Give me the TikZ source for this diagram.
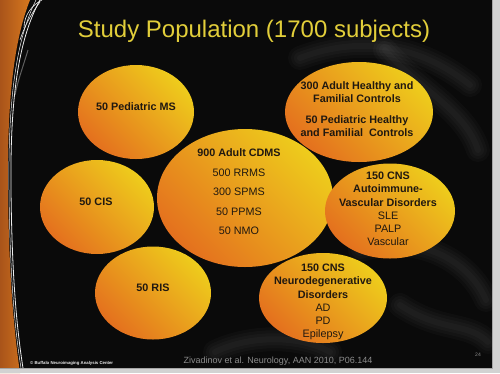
\documentclass[tikz,border=0pt]{standalone}
\usepackage{fontspec}
\setmainfont{Liberation Sans}
\usetikzlibrary{shapes.geometric}
\definecolor{bg}{HTML}{0A0A0A}
\definecolor{orA}{HTML}{E4701E}
\definecolor{yeA}{HTML}{EECC1C}
\definecolor{titleY}{HTML}{E2CE3A}
\definecolor{txt}{HTML}{201810}
\definecolor{bandA}{HTML}{A9541A}
\definecolor{bandB}{HTML}{D7781E}
\definecolor{framec}{HTML}{D2D2D2}
\definecolor{foot}{HTML}{8C8C8C}
\begin{document}
\begin{tikzpicture}[x=1pt,y=-1pt,
  blob/.style={ellipse, inner sep=0pt, draw=none, top color=yeA, bottom color=orA, shading angle=-45},
  lbl/.style={text=txt, font=\fontsize{10.8}{13.2}\selectfont, align=center, inner sep=0pt},
  smoke/.style={draw=white, opacity=0.022, line cap=round},
  swirl/.style={draw=white!85!gray, line width=0.8pt}]
\useasboundingbox (0,0) rectangle (500,373);
\fill[bg] (0,0) rectangle (500,373);
% faint smoke in background
\foreach \w in {6,12,18,24}{
\draw[smoke, line width=\w pt] (300,58) .. controls (360,35) and (420,45) .. (470,85);
\draw[smoke, line width=\w pt] (385,50) .. controls (420,90) and (465,110) .. (478,150);
\draw[smoke, line width=\w pt] (360,250) .. controls (420,232) and (470,262) .. (486,300);
\draw[smoke, line width=\w pt] (400,305) .. controls (440,332) and (468,322) .. (488,342);
\draw[smoke, line width=\w pt] (215,352) .. controls (250,335) and (300,335) .. (330,352);
}
% left orange band
\shade[left color=bandA, right color=bandB] (0,0) -- (30,0) .. controls (14,40) and (7,100) .. (8,190) .. controls (9,280) and (14,330) .. (20,373) -- (0,373) -- cycle;
\draw[swirl] (40,0) .. controls (18,40) and (10,100) .. (11,190) .. controls (12,280) and (17,330) .. (23,368);
\draw[swirl, line width=0.5pt] (36,0) .. controls (16,40) and (8,100) .. (9,190) .. controls (10,280) and (15,330) .. (21,368);
\draw[swirl, line width=0.6pt] (24,28) .. controls (24,15) and (32,5) .. (42,0);
\draw[swirl, line width=0.6pt] (20,40) .. controls (26,22) and (34,10) .. (40,2);
\draw[white, opacity=0.35, line width=1pt] (28,50) .. controls (22,70) and (18,80) .. (15,95);
% frame
\fill[framec] (492,0) rectangle (500,373);
\fill[framec] (0,368) rectangle (500,373);
\draw[gray!70, line width=0.6pt] (492.3,0) -- (492.3,368) -- (0,368);
% title
\node[text=titleY, font=\fontsize{24}{28}\selectfont, inner sep=0pt] (title) at (254,31) {Study Population (1700 subjects)};
% ellipses
\node[blob, minimum width=116pt, minimum height=94pt] (ped) at (136,112) {};
\node[blob, minimum width=114pt, minimum height=94pt] (cis) at (97,207) {};
\node[blob, minimum width=116pt, minimum height=93pt] (ris) at (153,293) {};
\node[blob, minimum width=176pt, minimum height=138pt] (cdms) at (245,198) {};
\node[blob, minimum width=148pt, minimum height=100pt] (ctrl) at (359,112) {};
\node[blob, minimum width=130pt, minimum height=95pt] (auto) at (390,211) {};
\node[blob, minimum width=128pt, minimum height=90pt] (neuro) at (323,298) {};
% labels
\node[lbl, font=\fontsize{10.8}{13.2}\selectfont\bfseries] (pedt) at (136,107) {50 Pediatric MS};
\node[lbl, font=\fontsize{10.8}{13.2}\selectfont\bfseries] (cist) at (96,202) {50 CIS};
\node[lbl, font=\fontsize{10.8}{13.2}\selectfont\bfseries] (rist) at (153,288) {50 RIS};
\node[lbl, font=\fontsize{10.8}{19.5}\selectfont] (cdmst) at (239,192) {\textbf{900 Adult CDMS}\\500 RRMS\\300 SPMS\\50 PPMS\\50 NMO};
\node[lbl, font=\fontsize{10.8}{13.2}\selectfont\bfseries] (ctrla) at (357,92.5) {300 Adult Healthy and\\Familial Controls};
\node[lbl, font=\fontsize{10.8}{13.2}\selectfont\bfseries] (ctrlb) at (357,126) {50 Pediatric Healthy\\and Familial\ \ Controls};
\node[lbl] (autot) at (388,209) {\textbf{150 CNS}\\\textbf{Autoimmune-}\\\textbf{Vascular Disorders}\\SLE\\PALP\\Vascular};
\node[lbl] (neurot) at (323,302) {\textbf{150 CNS}\\\textbf{Neurodegenerative}\\\textbf{Disorders}\\AD\\PD\\Epilepsy};
% footer
\node[text=foot, font=\fontsize{9}{10}\selectfont, inner sep=0pt] (ref) at (278,361) {Zivadinov et al. Neurology, AAN 2010, P06.144};
\node[text=white!85!gray, font=\fontsize{4.3}{5}\selectfont\bfseries, inner sep=0pt, anchor=west] (copy) at (30,363) {\textcopyright\ Buffalo Neuroimaging Analysis Center};
\node[text=foot, font=\fontsize{5}{6}\selectfont, inner sep=0pt] (pg) at (478,355) {24};
\end{tikzpicture}
\end{document}
